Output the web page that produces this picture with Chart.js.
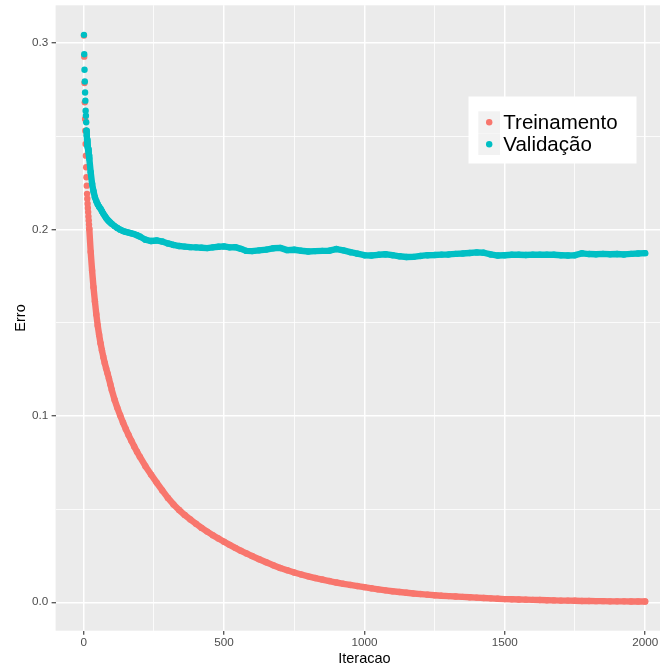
<!DOCTYPE html>
<html>
<head>
<meta charset="utf-8">
<script src="https://cdn.jsdelivr.net/npm/chart.js@4/dist/chart.umd.min.js"></script>
<style>
  html, body { margin: 0; padding: 0; background: #ffffff; overflow: hidden; }
  #wrap { width: 660px; height: 670px; overflow: hidden; }
  canvas { display: block; }
</style>
</head>
<body>
<div id="wrap"><canvas id="erroChart" width="680" height="670"></canvas></div>
<script>
// iterations at which the error was recorded
const iteracoes = [
  1, 2, 3, 4, 5, 6, 7, 8, 9, 10, 11, 12, 13, 14, 15, 16, 17, 18, 19, 20,
  25, 30, 35, 40, 45, 50, 55, 60, 65, 70, 75, 80, 85, 90, 95, 100,
  110, 120, 130, 140, 150, 160, 170, 180, 190, 200,
  220, 240, 260, 280, 300, 320, 340, 360, 380, 400,
  420, 440, 460, 480, 500, 520, 540, 560, 580, 600,
  625, 650, 675, 700, 725, 750, 775, 800, 825, 850, 875, 900, 925, 950, 975, 1000,
  1025, 1050, 1075, 1100, 1125, 1150, 1175, 1200, 1225, 1250, 1275, 1300,
  1325, 1350, 1375, 1400, 1425, 1450, 1475, 1500, 1525, 1550, 1575, 1600,
  1625, 1650, 1675, 1700, 1725, 1750, 1775, 1800, 1825, 1850, 1875, 1900,
  1925, 1950, 1975, 2000
];

const erroTreinamento = [
  0.3040, 0.2927, 0.2786, 0.2682, 0.2593, 0.2530, 0.2459, 0.2396, 0.2334, 0.2280,
  0.2235, 0.2191, 0.2165, 0.2138, 0.2115, 0.2093, 0.2070, 0.2048, 0.2026, 0.2004,
  0.1880, 0.1780, 0.1690, 0.1615, 0.1545, 0.1485, 0.1435, 0.1390, 0.1352, 0.1316,
  0.1284, 0.1255, 0.1228, 0.1200, 0.1170, 0.1140,
  0.1087, 0.1043, 0.1003, 0.0965, 0.0930, 0.0897, 0.0866, 0.0836, 0.0808, 0.0781,
  0.0730, 0.0685, 0.0642, 0.0600, 0.0560, 0.0525, 0.0495, 0.0468, 0.0444, 0.0421,
  0.0399, 0.0379, 0.0360, 0.0342, 0.0325, 0.0308, 0.0292, 0.0276, 0.0262, 0.0248,
  0.0231, 0.0215, 0.0199, 0.0184, 0.0172, 0.0160, 0.0149, 0.0139, 0.0130, 0.0122,
  0.0114, 0.0106, 0.0099, 0.0093, 0.0087, 0.0081, 0.0075, 0.0069, 0.0064, 0.0059,
  0.0055, 0.0051, 0.0047, 0.0044, 0.0041, 0.0038, 0.0035, 0.0033, 0.0031, 0.0029,
  0.0027, 0.0025, 0.0023, 0.0021, 0.0019, 0.0017, 0.0016, 0.0015, 0.0014, 0.0013,
  0.0012, 0.0011, 0.0010, 0.0009, 0.0009, 0.0008, 0.0007, 0.0007, 0.0006, 0.0006,
  0.0005, 0.0005, 0.0005, 0.0004, 0.0004, 0.0004
];

const erroValidacao = [
  0.3044, 0.2940, 0.2857, 0.2794, 0.2735, 0.2691, 0.2637, 0.2610, 0.2575, 0.2530,
  0.2505, 0.2480, 0.2465, 0.2450, 0.2441, 0.2430, 0.2426, 0.2411, 0.2396, 0.2381,
  0.2307, 0.2245, 0.2205, 0.2173, 0.2152, 0.2135, 0.2122, 0.2112, 0.2098, 0.2085,
  0.2073, 0.2062, 0.2052, 0.2044, 0.2037, 0.2030,
  0.2018, 0.2008, 0.1999, 0.1992, 0.1987, 0.1983, 0.1979, 0.1975, 0.1969, 0.1962,
  0.1945, 0.1938, 0.1941, 0.1935, 0.1925, 0.1917, 0.1911, 0.1908, 0.1905, 0.1904,
  0.1902, 0.1900, 0.1904, 0.1907, 0.1909, 0.1904, 0.1905, 0.1896, 0.1885, 0.1884,
  0.1888, 0.1892, 0.1899, 0.1901, 0.1889, 0.1891, 0.1886, 0.1882, 0.1884, 0.1885,
  0.1886, 0.1895, 0.1888, 0.1878, 0.1870, 0.1862, 0.1860, 0.1864, 0.1867, 0.1862,
  0.1856, 0.1852, 0.1853, 0.1858, 0.1862, 0.1863, 0.1865, 0.1866, 0.1869, 0.1871,
  0.1874, 0.1877, 0.1875, 0.1866, 0.1860, 0.1862, 0.1864, 0.1864, 0.1863, 0.1865,
  0.1864, 0.1865, 0.1864, 0.1862, 0.1860, 0.1862, 0.1872, 0.1868, 0.1867, 0.1869,
  0.1867, 0.1868, 0.1866, 0.1869, 0.1871, 0.1873
];

// grid positions; even indexes are the labelled (major) ones
const ticksX = [0, 250, 500, 750, 1000, 1250, 1500, 1750, 2000];
const ticksY = [0, 0.05, 0.1, 0.15, 0.2, 0.25, 0.3];

const series = ['Treinamento', 'Validação'];
const cores = ['#F8766D', '#00BFC4'];
// below these iterations the points are drawn loose, without the joining band
const inicioFaixa = [20, 10];

const fonte = '"Liberation Sans", Arial, Helvetica, sans-serif';

function pontos(valores) {
  return iteracoes.map((it, i) => ({ x: it, y: valores[i] }));
}

function serie(i, valores, ordem) {
  const cor = cores[i];
  return {
    label: series[i],
    data: pontos(valores),
    order: ordem,
    showLine: true,
    borderColor: cor,
    borderWidth: 6.4,
    borderCapStyle: 'round',
    borderJoinStyle: 'round',
    backgroundColor: cor,
    pointBackgroundColor: cor,
    pointBorderWidth: 0,
    pointRadius: 3.2,
    tension: 0,
    segment: {
      borderColor: c => c.p0.parsed.x < inicioFaixa[i] ? 'rgba(0,0,0,0)' : cor
    }
  };
}

// grey panel behind the grid
const painel = {
  id: 'painel',
  beforeDraw(chart) {
    const { ctx, chartArea: a } = chart;
    ctx.save();
    ctx.fillStyle = '#FFFFFF';
    ctx.fillRect(0, 0, chart.width, chart.height);
    ctx.fillStyle = '#EBEBEB';
    ctx.fillRect(a.left, a.top, a.right - a.left, a.bottom - a.top);
    ctx.restore();
  }
};

// axis titles and the legend box inside the panel
const anotacoes = {
  id: 'anotacoes',
  afterDraw(chart) {
    const { ctx, chartArea: a } = chart;
    ctx.save();
    ctx.fillStyle = '#000000';
    ctx.font = '14.5px ' + fonte;
    ctx.textAlign = 'center';
    ctx.textBaseline = 'alphabetic';
    ctx.fillText('Iteracao', (a.left + a.right) / 2, 662.5);
    ctx.translate(25, (a.top + a.bottom) / 2);
    ctx.rotate(-Math.PI / 2);
    ctx.fillText('Erro', 0, 0);
    ctx.restore();

    ctx.save();
    ctx.fillStyle = '#FFFFFF';
    ctx.fillRect(468.5, 96.5, 168, 67);
    ctx.font = '20.5px ' + fonte;
    ctx.textAlign = 'left';
    ctx.textBaseline = 'alphabetic';
    series.forEach((nome, i) => {
      const y = 111.3 + i * 22;
      ctx.fillStyle = '#F2F2F2';
      ctx.fillRect(478.3, y, 21.7, 21.7);
      ctx.fillStyle = cores[i];
      ctx.beginPath();
      ctx.arc(489.2, y + 10.9, 3.2, 0, Math.PI * 2);
      ctx.fill();
      ctx.fillStyle = '#000000';
      ctx.fillText(nome, 503.3, y + 18);
    });
    ctx.restore();
  }
};

new Chart(document.getElementById('erroChart'), {
  type: 'scatter',
  data: {
    datasets: [
      serie(0, erroTreinamento, 2),
      serie(1, erroValidacao, 1)
    ]
  },
  options: {
    responsive: false,
    animation: false,
    events: [],
    layout: { padding: { left: 0, right: 6.8, top: 5.3, bottom: 0 } },
    plugins: {
      legend: { display: false },
      tooltip: { enabled: false }
    },
    scales: {
      x: {
        type: 'linear',
        min: -100,
        max: 2100,
        afterBuildTicks: s => { s.ticks = ticksX.map(v => ({ value: v })); },
        afterFit: s => { s.height = 39.3; s.paddingLeft = 0; s.paddingRight = 0; },
        border: { display: false },
        grid: {
          color: '#FFFFFF',
          lineWidth: c => c.index % 2 === 0 ? 1.5 : 0.8,
          tickColor: c => c.index % 2 === 0 ? '#333333' : 'rgba(0,0,0,0)',
          tickLength: 4,
          tickWidth: 1.1
        },
        ticks: {
          autoSkip: false,
          maxRotation: 0,
          padding: 1,
          color: '#4D4D4D',
          font: { family: fonte, size: 11.7 },
          callback: (v, i) => i % 2 === 0 ? String(v) : ''
        }
      },
      y: {
        type: 'linear',
        min: -0.01525,
        max: 0.32025,
        afterBuildTicks: s => { s.ticks = ticksY.map(v => ({ value: v })); },
        afterFit: s => { s.width = 55.6; s.paddingTop = 0; s.paddingBottom = 0; },
        border: { display: false },
        grid: {
          color: '#FFFFFF',
          lineWidth: c => c.index % 2 === 0 ? 1.5 : 0.8,
          tickColor: c => c.index % 2 === 0 ? '#333333' : 'rgba(0,0,0,0)',
          tickLength: 4,
          tickWidth: 1.1
        },
        ticks: {
          autoSkip: false,
          padding: 3.3,
          color: '#4D4D4D',
          font: { family: fonte, size: 11.7 },
          callback: (v, i) => i % 2 === 0 ? v.toFixed(1) : ''
        }
      }
    }
  },
  plugins: [painel, anotacoes]
});
</script>
</body>
</html>
